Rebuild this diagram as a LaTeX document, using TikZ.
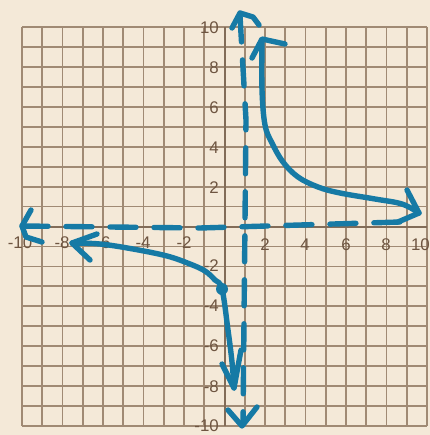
\documentclass[tikz,border=0pt]{standalone}
\usepackage{fontspec}
\setmainfont{Liberation Sans}
\definecolor{paper}{RGB}{244,233,216}
\definecolor{gridc}{RGB}{160,138,116}
\definecolor{axisc}{RGB}{130,108,88}
\definecolor{ink}{RGB}{22,122,165}
\definecolor{labc}{RGB}{110,85,65}
\tikzset{
  gridline/.style={gridc, line width=0.09cm},
  axisline/.style={axisc, line width=0.1cm},
  pen/.style={ink, line width=0.27cm, line cap=round, line join=round},
  dashpen/.style={pen, dash pattern=on 1.3cm off 0.9cm},
  lab/.style={labc, inner sep=0pt, font=\fontsize{24}{24}\selectfont}
}
\begin{document}
\begin{tikzpicture}[x=0.05cm, y=-0.05cm]
\useasboundingbox (0,0) rectangle (430,435);
\fill[paper] (0,0) rectangle (430,435);
% grid
\foreach \k in {0,...,20} {
  \draw[gridline] ({22+\k*20.25},27) -- ({22+\k*20.25},426);
  \draw[gridline] (22,{27+\k*19.95}) -- (427,{27+\k*19.95});
}
\draw[axisline] (224.5,27) -- (224.5,426);
\draw[axisline] (22,226.5) -- (427,226.5);
% y labels
\foreach \v/\yy in {10/28, 8/68, 6/108, 4/148, 2/188} {
  \node[lab, anchor=east] (ly\v) at (219,\yy) {\v};
}
\foreach \v/\yy in {2/266, 4/306, 6/346, 8/387, 10/426} {
  \node[lab, anchor=east] (lyn\v) at (219,\yy) {-\v};
}
% x labels
\foreach \v/\xx in {10/20, 8/62, 6/103, 4/143, 2/184} {
  \node[lab] (lxn\v) at (\xx,243) {-\v};
}
\foreach \v/\xx in {2/265, 4/305, 6/346, 8/386} {
  \node[lab] (lx\v) at (\xx,245) {\v};
}
\node[lab, anchor=east] (lx10) at (430,245) {10};
% asymptotes
\draw[dashpen] (240,16) -- (246,120) -- (243,422);
\draw[pen] (232,28) -- (240,13) -- (253,17) -- (259,25);
\draw[pen] (228,410) -- (242,426) -- (257,407);
\draw[dashpen] (22,226) -- (200,228) -- (400,222);
\draw[pen] (31,210) -- (22,226) -- (26,237) -- (42,242);
% right branch
\draw[pen] plot[smooth, tension=0.6] coordinates {(262,40) (262,90) (265,125) (272,143) (283,162) (298,177) (318,187) (340,193) (375,199) (402,204) (419,213)};
\draw[pen] (252,58) -- (262,39) -- (285,44);
\draw[pen] (407,190) -- (419,213) -- (398,222);
% left branch
\draw[pen] plot[smooth, tension=0.6] coordinates {(72,243) (100,244) (133,249) (167,256) (190,264) (205,271) (215,280) (222,289) (228,330) (232,362) (234,388)};
\draw[pen] (97,234) -- (72,243) -- (90,260);
\draw[pen] (222,364) -- (234,388) -- (241,350);
\fill[ink] (222,289) circle (6);
\end{tikzpicture}
\end{document}
